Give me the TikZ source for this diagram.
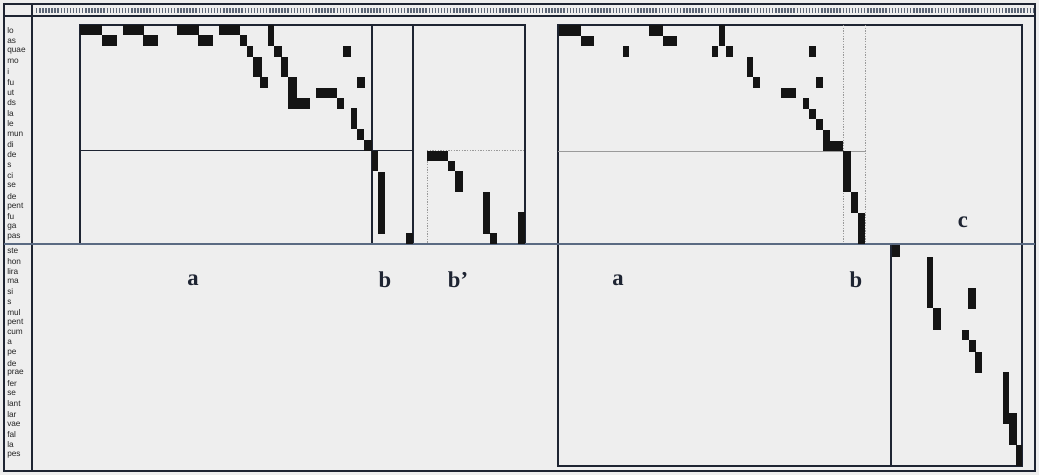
\documentclass[tikz,border=0pt]{standalone}
\usepackage{fontspec}
\setmainfont{Liberation Serif}
\newfontfamily\lblfont{Liberation Sans}
\definecolor{bgc}{HTML}{EEEEEE}
\definecolor{linec}{HTML}{1E2432}
\definecolor{divc}{HTML}{5A6A82}
\definecolor{dotc}{HTML}{9A9A9A}
\definecolor{cellc}{HTML}{141414}
\definecolor{rulc}{HTML}{5E6878}
\tikzset{
  frame/.style={draw=linec, line width=1.2pt},
  thinln/.style={draw=linec, line width=0.8pt},
  dotln/.style={draw=dotc, line width=0.6pt, dash pattern=on 1pt off 1pt},
  greyln/.style={draw=dotc, line width=0.7pt},
  cell/.style={fill=cellc},
  rowlbl/.style={anchor=west, inner sep=0pt, font=\lblfont\fontsize{6.2}{7}\selectfont, text=black!85},
  seclbl/.style={inner sep=0pt, font=\bfseries\fontsize{17}{19}\selectfont, text=linec}
}
\begin{document}
\begin{tikzpicture}[x=0.75pt,y=-0.75pt]
\useasboundingbox (0,0) rectangle (1039,475);
\fill[bgc] (0,0) rectangle (1039,475);
% ruler
\draw[draw=rulc, line width=4.2pt, dash pattern=on 1.1pt off 1.2pt] (36,10.5) -- (1034,10.5);
% outer frame
\draw[frame] (4,4) rectangle (1035,471);
\draw[thinln] (4,16) -- (1035,16);
\draw[frame] (32,4) -- (32,471);
% left panel
\draw[frame, line width=1.5pt] (80,25) rectangle (525,244);
\draw[thinln] (372,25) -- (372,244);
\draw[thinln] (413,25) -- (413,244);
\draw[thinln] (80,150.5) -- (413,150.5);
\draw[dotln] (427,150.5) -- (525,150.5);
\draw[dotln] (427,150.5) -- (427,244);
% right panel
\draw[frame, line width=1.5pt] (558,25) rectangle (1022,466);
\draw[greyln] (558,151) -- (865,151);
\draw[dotln] (843,25) -- (843,244);
\draw[dotln] (865,25) -- (865,244);
\draw[frame] (891,244) -- (891,466);
% section divider
\draw[draw=divc, line width=1.5pt] (4,244) -- (1035,244);
% cells: left panel
\foreach \a/\b/\c/\d in {80/25/102/35,102/35/117/46,123/25/144/35,143/35/158/46,177/25/199/35,198/35/213/46,219/25/240/35,240/35/247/46,247/46/253/57,253/57/262/77,260/77/268/88,268/25/274/46,274/46/282/57,281/57/288/77,288/77/297/98,288/98/310/109,343/46/351/57,316/88/337/98,337/98/344/109,357/77/365/88,351/108/357/129,357/129/364/140,364/140/372/151,372/151/378/171,378/172/385/234,406/233/413/244,427/151/448/161,448/161/455/171,455/171/463/192,483/192/490/234,490/233/497/244,518/212/525/244}
  {\fill[cell] (\a,\b) rectangle (\c,\d);}
% cells: right panel upper
\foreach \a/\b/\c/\d in {559/25/581/36,581/36/594/46,623/46/629/57,649/25/663/36,663/36/677/46,719/25/725/46,712/46/718/57,726/46/733/57,747/57/753/77,753/77/760/88,809/46/816/57,816/77/823/88,781/88/796/98,803/98/809/109,809/109/816/119,816/119/823/130,823/130/830/141,823/141/843/151,843/151/851/192,851/192/858/213,858/213/865/244}
  {\fill[cell] (\a,\b) rectangle (\c,\d);}
% cells: right panel lower
\foreach \a/\b/\c/\d in {892/245/900/257,927/257/933/308,933/308/941/330,968/288/976/309,962/330/969/340,969/340/976/352,975/352/982/373,1003/372/1009/424,1009/413/1017/445,1016/445/1022/466}
  {\fill[cell] (\a,\b) rectangle (\c,\d);}
% row labels top
\foreach \t [count=\i from 0] in {lo,as,quae,mo,i,fu,ut,ds,la,le,mun,di,de,s,ci,se,de,pent,fu,ga,pas}
  {\node[rowlbl] (r\i) at (7,{30.5+10.35*\i}) {\t};}
% row labels bottom
\foreach \t [count=\i from 0] in {ste,hon,lira,ma,si,s,mul,pent,cum,a,pe,de,prae,fer,se,lant,lar,vae,fal,la,pes}
  {\node[rowlbl] (s\i) at (7,{251+10.2*\i}) {\t};}
% section labels
\node[seclbl] (la) at (193,280) {a};
\node[seclbl] (lb) at (385,280) {b};
\node[seclbl] (lbp) at (458,280) {b’};
\node[seclbl] (ra) at (618,280) {a};
\node[seclbl] (rb) at (856,280) {b};
\node[seclbl] (rc) at (963,222) {c};
\end{tikzpicture}
\end{document}
